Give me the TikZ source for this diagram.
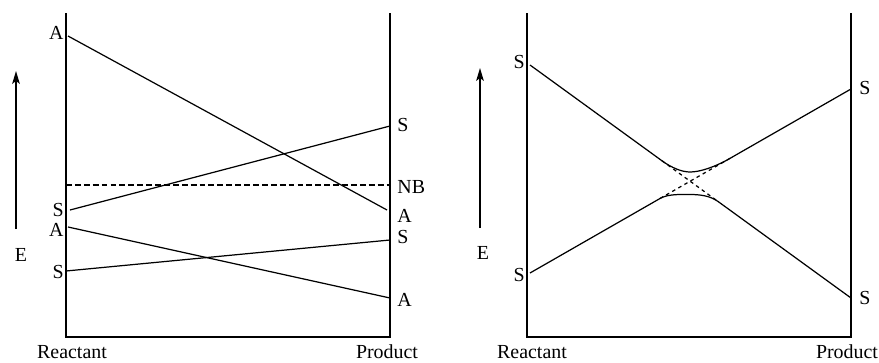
\documentclass[tikz,border=0pt]{standalone}
\usepackage{fontspec}
\setmainfont{Liberation Serif}
\usetikzlibrary{calc,arrows.meta}

\begin{document}
\begin{tikzpicture}[x=0.03cm, y=-0.03cm, >={Stealth[length=11pt,width=6.5pt,inset=2.5pt]},
    every node/.style={font=\fontsize{17}{20}\selectfont, inner sep=1pt},
    axis/.style={line width=1.2pt},
    level/.style={line width=1.05pt},
    nbline/.style={line width=1.05pt, dash pattern=on 5pt off 2.6pt}]
  \useasboundingbox (0,0) rectangle (879,362);

  % 1. left panel frame
  \coordinate (lTL) at (66,13);
  \coordinate (lBL) at (66,337);
  \coordinate (lBR) at (390,337);
  \coordinate (lTR) at (390,13);
  \draw[axis] (lTL) -- (lBL) -- (lBR) -- (lTR);

  % energy arrow
  \coordinate (lE0) at (16,229);
  \coordinate (lE1) at (16,71);
  \draw[->, line width=1.3pt] (lE0) -- (lE1);
  \node (lE) at (21,255) {E};

  % 2. left panel levels
  \coordinate (lA1) at (68,36);    \coordinate (rA1) at (387,210);
  \coordinate (lS1) at (70,210);   \coordinate (rS1) at (390,126);
  \coordinate (lA2) at (68,227);   \coordinate (rA2) at (390,298);
  \coordinate (lS2) at (66,271);   \coordinate (rS2) at (390,240);
  \coordinate (nb0) at (66,185);   \coordinate (nb1) at (390,185);
  \draw[level] (lA1) -- (rA1);
  \draw[level] (lS1) -- (rS1);
  \draw[level] (lA2) -- (rA2);
  \draw[level] (lS2) -- (rS2);
  \draw[nbline] (nb0) -- (nb1);

  % labels
  \node[anchor=east] (tA1) at (65,33) {A};
  \node[anchor=east] (tS1) at (65,210) {S};
  \node[anchor=east] (tA2) at (65,230) {A};
  \node[anchor=east] (tS2) at (65,272) {S};
  \node[anchor=west] (uS1) at (396,125) {S};
  \node[anchor=west] (uNB) at (396,187) {NB};
  \node[anchor=west] (uA1) at (396,216) {A};
  \node[anchor=west] (uS2) at (396,237) {S};
  \node[anchor=west] (uA2) at (396,300) {A};
  \node (lR) at (72,352) {Reactant};
  \node (lP) at (387,352) {Product};

  % 3. right panel frame
  \coordinate (mTL) at (527,13);
  \coordinate (mBL) at (527,337);
  \coordinate (mBR) at (851,337);
  \coordinate (mTR) at (851,13);
  \draw[axis] (mTL) -- (mBL) -- (mBR) -- (mTR);

  \coordinate (mE0) at (480,228);
  \coordinate (mE1) at (480,68);
  \draw[->, line width=1.3pt] (mE0) -- (mE1);
  \node (mE) at (483,253) {E};

  % 4. avoided crossing
  \coordinate (sL1) at (530,65);   \coordinate (sR2) at (851,298);
  \coordinate (sL2) at (530,273);  \coordinate (sR1) at (851,89);
  % upper branch
  \coordinate (p1) at ($(sL1)!0.411!(sR2)$);
  \coordinate (c1) at ($(sL1)!0.442!(sR2)$);
  \coordinate (bU) at (690,172);
  \coordinate (c2) at ($(sL2)!0.576!(sR1)$);
  \coordinate (p2) at ($(sL2)!0.623!(sR1)$);
  % lower branch
  \coordinate (p3) at ($(sL2)!0.405!(sR1)$);
  \coordinate (c3) at ($(sL2)!0.430!(sR1)$);
  \coordinate (bL) at (690,194.5);
  \coordinate (c4) at ($(sL1)!0.561!(sR2)$);
  \coordinate (p4) at ($(sL1)!0.586!(sR2)$);
  \draw[level] (sL1) -- (p1) .. controls (c1) and ($(bU)+(-8,0)$) .. (bU)
    .. controls ($(bU)+(10,0)$) and (c2) .. (p2) -- (sR1);
  \draw[level] (sL2) -- (p3) .. controls (c3) and ($(bL)+(-10,0)$) .. (bL)
    .. controls ($(bL)+(10,0)$) and (c4) .. (p4) -- (sR2);
  \draw[level, dashed] (p1) -- (p4);
  \draw[level, dashed] (p3) -- (p2);

  \node[anchor=east] (vS1) at (526,62) {S};
  \node[anchor=east] (vS2) at (526,275) {S};
  \node[anchor=west] (wS1) at (858,88) {S};
  \node[anchor=west] (wS2) at (858,298) {S};
  \node (mR) at (532,352) {Reactant};
  \node (mP) at (847,352) {Product};
\end{tikzpicture}
\end{document}
